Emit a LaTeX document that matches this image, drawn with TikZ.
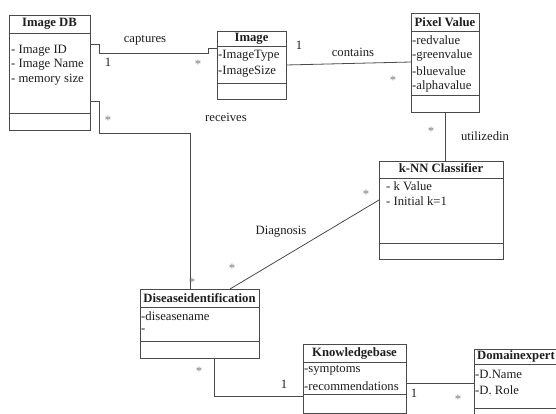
\documentclass[tikz,border=0pt]{standalone}
\usepackage{fontspec}
\setmainfont{Liberation Serif}
\definecolor{linec}{HTML}{4A4A4A}
\definecolor{txtc}{HTML}{1E1E1E}
\definecolor{starc}{HTML}{7A7A7A}
\begin{document}
\begin{tikzpicture}[x=1pt,y=-1pt,
  line/.style={draw=linec, line width=0.8pt},
  cls/.style={draw=linec, line width=0.8pt, inner sep=0pt, outer sep=0pt, anchor=north west},
  ttl/.style={font=\fontsize{12.7}{14}\selectfont\bfseries, inner sep=0pt, text=txtc},
  attr/.style={font=\fontsize{12.7}{14}\selectfont, inner sep=0pt, anchor=west, text=txtc},
  lbl/.style={font=\fontsize{12.7}{14}\selectfont, inner sep=0pt, text=txtc},
  mult/.style={font=\fontsize{12.7}{14}\selectfont, inner sep=0pt, text=starc},
]
\useasboundingbox (0,0) rectangle (556,414);
\fill[white] (0,0) rectangle (556,414);

% Image DB
\node[cls, minimum width=81pt, minimum height=115pt] (db) at (9,15) {};
\draw[line] (9,33) -- (90,33);
\draw[line] (9,113) -- (90,113);
\node[ttl] (dbt) at (49.5,24) {Image DB};
\node[attr] (dba1) at (11,51) {- Image ID};
\node[attr] (dba2) at (11,65) {- Image Name};
\node[attr] (dba3) at (11,80) {- memory size};

% Image
\node[cls, minimum width=69pt, minimum height=68pt] (img) at (217,31) {};
\draw[line] (217,46) -- (286,46);
\draw[line] (217,83) -- (286,83);
\node[ttl] (imgt) at (251.5,39) {Image};
\node[attr] (imga1) at (218,56) {-ImageType};
\node[attr] (imga2) at (218,72) {-ImageSize};

% Pixel Value
\node[cls, minimum width=68pt, minimum height=99pt] (pix) at (411,13) {};
\draw[line] (411,31) -- (479,31);
\draw[line] (411,95) -- (479,95);
\node[ttl] (pixt) at (445,22) {Pixel Value};
\node[attr] (pixa1) at (412,40) {-redvalue};
\node[attr] (pixa2) at (412,55) {-greenvalue};
\node[attr] (pixa3) at (412,71) {-bluevalue};
\node[attr] (pixa4) at (412,86) {-alphavalue};

% k-NN Classifier
\node[cls, minimum width=124pt, minimum height=98pt] (knn) at (379,161) {};
\draw[line] (379,178) -- (503,178);
\draw[line] (379,243) -- (503,243);
\node[ttl] (knnt) at (441,168.5) {k-NN Classifier};
\node[attr] (knna1) at (386,186) {- k Value};
\node[attr] (knna2) at (386,201) {- Initial k=1};

% Diseaseidentification
\node[cls, minimum width=119pt, minimum height=69pt] (dis) at (140,289) {};
\draw[line] (140,307) -- (259,307);
\draw[line] (140,341) -- (259,341);
\node[ttl] (dist) at (199.5,298) {Diseaseidentification};
\node[attr] (disa1) at (141,316) {-diseasename};
\node[attr] (disa2) at (141,331) {-};

% Knowledgebase
\node[cls, minimum width=103pt, minimum height=69pt] (kb) at (303,344) {};
\draw[line] (303,362) -- (406,362);
\draw[line] (303,394) -- (406,394);
\node[ttl] (kbt) at (354.5,353) {Knowledgebase};
\node[attr] (kba1) at (304,370) {-symptoms};
\node[attr] (kba2) at (304,386) {-recommendations};

% Domainexpert (cut at the right edge)
\node[cls, minimum width=110pt, minimum height=80pt] (dom) at (474,349) {};
\draw[line] (474,364) -- (584,364);
\draw[line] (474,408) -- (584,408);
\node[ttl, anchor=west] (domt) at (477,356) {Domainexpert};
\node[attr] (doma1) at (475,374) {-D.Name};
\node[attr] (doma2) at (475,390) {-D. Role};

% connectors
\draw[line] ([yshift=-29pt]db.north east) -- (99,44) -- (99,53) -- (208,53) -- (208,48) -- ([yshift=-17pt]img.north west);
\draw[line] ([yshift=-86pt]db.north east) -- (99,101) -- (99,133) -- (190,133) -- ([xshift=50pt]dis.north west);
\draw[line] ([yshift=-34pt]img.north east) -- ([yshift=-49pt]pix.north west);
\draw[line] ([xshift=34pt]pix.south west) -- ([xshift=66pt]knn.north west);
\draw[line] ([yshift=-39pt]knn.north west) -- ([xshift=90pt]dis.north west);
\draw[line] ([xshift=74pt]dis.south west) -- (214,396) -- ([yshift=-52pt]kb.north west);
\draw[line] ([yshift=-39pt]kb.north east) -- ([yshift=-34pt]dom.north west);

% labels
\node[lbl] (l1) at (145,40) {captures};
\node[lbl] (l2) at (226,117) {receives};
\node[lbl] (l3) at (353,52) {contains};
\node[lbl] (l4) at (485,136) {utilizedin};
\node[lbl] (l5) at (281,232) {Diagnosis};

% multiplicities
\node[lbl] (m1) at (108,62) {1};
\node[mult] (m2) at (198,64) {*};
\node[lbl] (m3) at (299,45) {1};
\node[mult] (m4) at (393,80) {*};
\node[mult] (m5) at (108,120) {*};
\node[mult] (m6) at (431,131) {*};
\node[mult] (m7) at (366,194) {*};
\node[mult] (m8) at (232,268) {*};
\node[mult] (m9) at (192,282) {*};
\node[mult] (m10) at (199,371) {*};
\node[lbl] (m11) at (284,384) {1};
\node[lbl] (m12) at (414,393) {1};
\node[mult] (m13) at (458,399) {*};
\end{tikzpicture}
\end{document}
